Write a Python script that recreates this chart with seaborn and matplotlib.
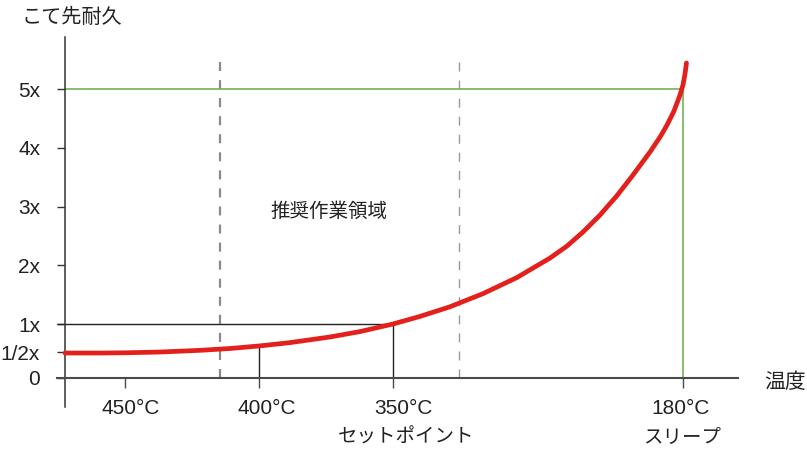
import matplotlib
matplotlib.use("Agg")
import matplotlib.pyplot as plt
import seaborn as sns
import pandas as pd

# ---- data ----
# x: position along the (non-linear) temperature axis, 450°C = 1, 400°C = 2, 350°C = 3
curve_pos = [0.552, 0.813, 1.0, 1.261, 1.560, 1.784, 2.0, 2.231, 2.530, 2.754, 3.0,
             3.201, 3.425, 3.672, 3.925, 4.172, 4.299, 4.418, 4.545, 4.672, 4.791,
             4.918, 4.993, 5.045, 5.097, 5.142, 5.164, 5.179, 5.190]
# y: tip life multiplier
curve_life = [0.506, 0.506, 0.510, 0.523, 0.552, 0.583, 0.626, 0.683, 0.779, 0.871, 1.0,
              1.129, 1.293, 1.517, 1.791, 2.123, 2.328, 2.566, 2.855, 3.187, 3.536,
              3.928, 4.183, 4.387, 4.626, 4.898, 5.068, 5.255, 5.443]

ytick_pos = [0.081, 0.523, 1, 2, 3, 4, 5]
ytick_labels = ["0", "1/2x", "1x", "2x", "3x", "4x", "5x"]

xtick_pos = [1.0, 2.0, 3.0, 5.164]
temp_labels = ["450°C", "400°C", "350°C", "180°C"]
temp_label_pos = [1.045, 2.060, 3.075, 5.149]
sub_labels = ["セットポイント", "スリープ"]
sub_label_pos = [3.097, 5.157]

setpoint_pos, setpoint_life = 3.0, 1.0
p400_pos, p400_life = 2.0, 0.626
sleep_pos, sleep_life = 5.164, 5.0
zone_bounds = [1.709, 3.493]

y_title = "こて先耐久"
x_title = "温度"
zone_label = "推奨作業領域"

# ---- style ----
sns.set_style("white")
plt.rcParams["font.family"] = ["Liberation Sans", "Noto Sans CJK JP"]
plt.rcParams["lines.scale_dashes"] = False

RED = "#e3201b"
GREEN = "#72b35a"
AXIS = "#4a4a4a"
TXT = "#222222"
JP = ["Noto Sans CJK JP"]

fig = plt.figure(figsize=(8.07, 4.69), dpi=100)
ax = fig.add_axes([0, 0, 1, 1])
ax.set_xlim(0.0672, 6.0896)
ax.set_ylim(-1.468, 6.515)

base_y = ytick_pos[0]
yaxis_x = curve_pos[0]

# guide lines
ax.vlines(zone_bounds[0], base_y, 5.476, colors="#8a8a8a", lw=1.6, linestyles=(0, (6.5, 6.5)), zorder=1)
ax.vlines(zone_bounds[1], base_y, 5.476, colors="#9a9a9a", lw=1.0, linestyles=(0, (6.5, 6.5)), zorder=1)
ax.hlines(setpoint_life, 0.493, setpoint_pos, colors=TXT, lw=1.0, zorder=2)
ax.vlines(setpoint_pos, base_y, setpoint_life, colors=TXT, lw=1.0, zorder=2)
ax.vlines(p400_pos, base_y, p400_life, colors=TXT, lw=1.0, zorder=2)
ax.hlines(sleep_life, yaxis_x, sleep_pos, colors=GREEN, lw=1.2, zorder=2)
ax.vlines(sleep_pos, base_y, sleep_life, colors=GREEN, lw=1.2, zorder=2)

# curve
df = pd.DataFrame({"pos": curve_pos, "life": curve_life})
sns.lineplot(data=df, x="pos", y="life", ax=ax, color=RED, lw=3.4,
             solid_capstyle="round", solid_joinstyle="round", zorder=5)
ax.set_xlabel("")
ax.set_ylabel("")

# spines
for s in ["top", "right"]:
    ax.spines[s].set_visible(False)
ax.spines["left"].set_position(("data", yaxis_x))
ax.spines["left"].set_bounds(-0.413, 5.885)
ax.spines["left"].set_color("#333333")
ax.spines["left"].set_linewidth(1.1)
ax.spines["bottom"].set_position(("data", base_y))
ax.spines["bottom"].set_bounds(0.493, 5.575)
ax.spines["bottom"].set_color(AXIS)
ax.spines["bottom"].set_linewidth(1.5)
for s in ["left", "bottom"]:
    ax.spines[s].set_zorder(3)

# y ticks
ax.set_yticks(ytick_pos, ytick_labels)
ax.tick_params(axis="y", direction="out", length=5.8, width=1.0, color="#333333",
               pad=12, labelsize=15, labelcolor=TXT, left=True)

# x ticks (marks only, labels as text)
ax.set_xticks(xtick_pos, [""] * len(xtick_pos))
ax.tick_params(axis="x", direction="out", length=7, width=1.0, color=AXIS, bottom=True)
tick_cols = [AXIS, TXT, TXT, GREEN]
for t, c in zip(ax.xaxis.get_major_ticks(), tick_cols):
    t.tick1line.set_color(c)

for p, lab in zip(temp_label_pos, temp_labels):
    ax.text(p, -0.43, lab, ha="center", va="center", fontsize=15, color=TXT)
for p, lab in zip(sub_label_pos, sub_labels):
    ax.text(p, -0.93, lab, ha="center", va="center", fontsize=14, color=TXT, family=JP)

ax.text(0.231, 6.225, y_title, ha="left", va="center", fontsize=14.5, color=TXT, family=JP)
ax.text(5.769, 0.013, x_title, ha="left", va="center", fontsize=15, color=TXT, family=JP)
ax.text(2.519, 2.911, zone_label, ha="center", va="center", fontsize=14, color=TXT, family=JP)

fig.savefig("out.png", dpi=100)
